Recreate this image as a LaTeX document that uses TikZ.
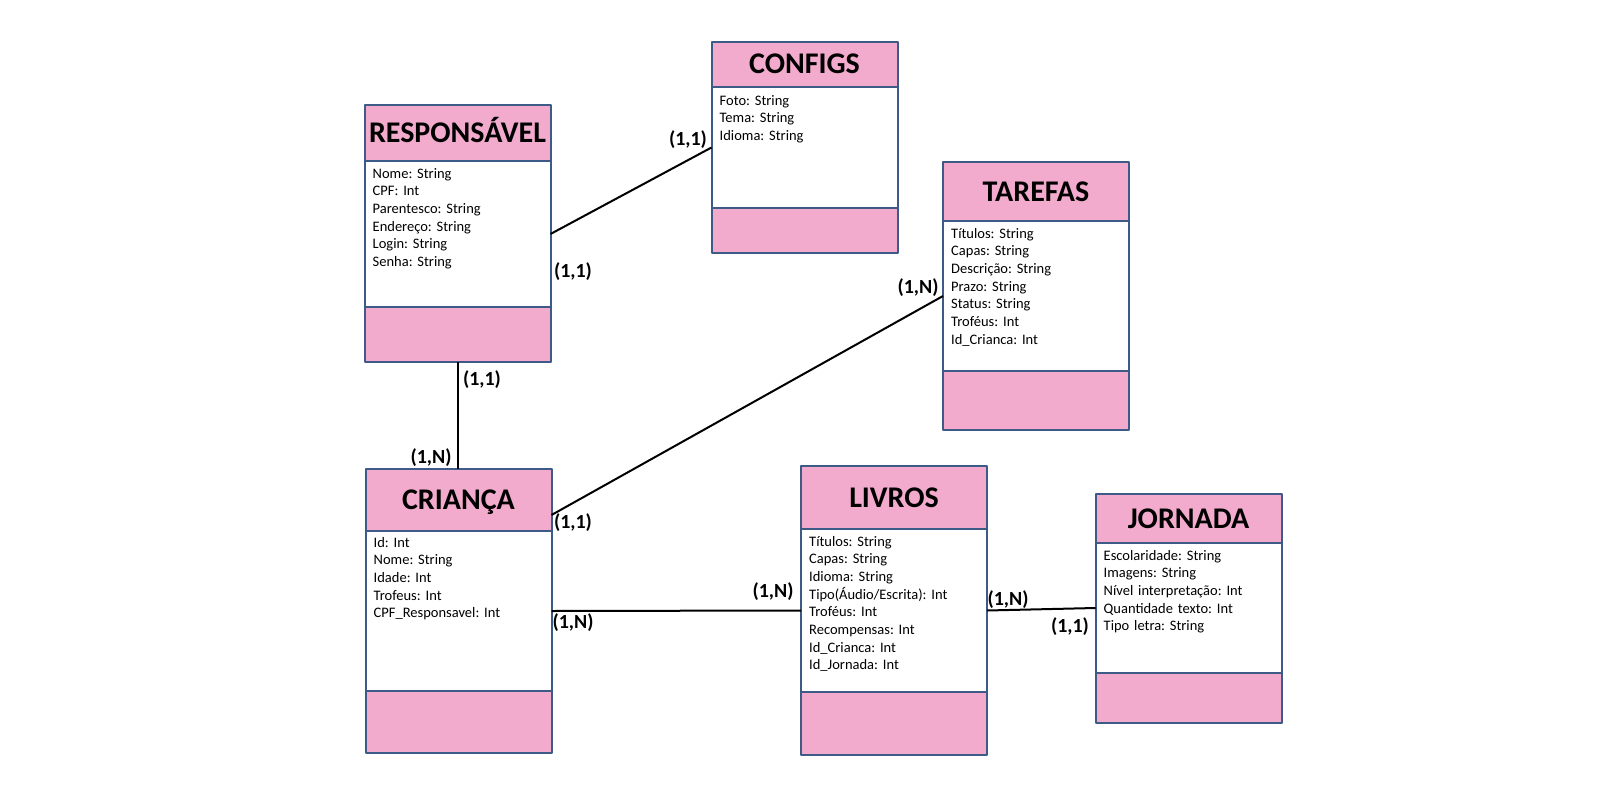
\documentclass[tikz,border=0pt]{standalone}
\usepackage{fontspec}
\setmainfont{Carlito}
\usetikzlibrary{positioning}
\definecolor{entpink}{RGB}{242,170,205}
\definecolor{entline}{RGB}{62,90,135}
\tikzset{>=latex}
\frenchspacing

\begin{document}
\begin{tikzpicture}[x=1pt, y=-1pt, line join=round,
    head/.style={draw=entline, line width=2pt, fill=entpink, minimum width=186pt,
        inner sep=0pt, outer sep=0pt, font=\fontsize{30}{36}\selectfont\bfseries,
        text height=19pt, text depth=0pt},
    body/.style={draw=entline, line width=2pt, fill=white, minimum width=186pt,
        inner sep=0pt, outer sep=0pt},
    foot/.style={body, fill=entpink},
    attrs/.style={anchor=base west, text width=175pt, align=left, inner sep=0pt,
        font=\fontsize{14.5}{17.7}\selectfont},
    card/.style={font=\fontsize{20}{24}\selectfont\bfseries, inner sep=0pt},
    conn/.style={black, line width=2pt}]
    \useasboundingbox (0,0) rectangle (1600,800);

    % responsavel
    \node[head, minimum height=56pt] (resp) at (457.5,133) {RESPONSÁVEL};
    \node[body, minimum height=146pt, below=0pt of resp] (resp-body) {};
    \node[foot, minimum height=55pt, below=0pt of resp-body] (resp-foot) {};
    \node[attrs] (resp-attr) at ([shift={(8,17)}]resp-body.north west)
        {Nome: String\\CPF: Int\\Parentesco: String\\Endereço: String\\Login: String\\Senha: String};

    % configs
    \node[head, minimum height=45pt] (cfg) at (804.5,64.5) {CONFIGS};
    \node[body, minimum height=121pt, below=0pt of cfg] (cfg-body) {};
    \node[foot, minimum height=45pt, below=0pt of cfg-body] (cfg-foot) {};
    \node[attrs] (cfg-attr) at ([shift={(8,18)}]cfg-body.north west)
        {Foto: String\\Tema: String\\Idioma: String};

    % tarefas
    \node[head, minimum height=59pt] (tar) at (1036,191.5) {TAREFAS};
    \node[body, minimum height=150pt, below=0pt of tar] (tar-body) {};
    \node[foot, minimum height=59pt, below=0pt of tar-body] (tar-foot) {};
    \node[attrs] (tar-attr) at ([shift={(8,17)}]tar-body.north west)
        {Títulos: String\\Capas: String\\Descrição: String\\Prazo: String\\Status: String\\Troféus: Int\\Id\_Crianca: Int};

    % crianca
    \node[head, minimum height=62pt] (cri) at (458.5,500) {CRIANÇA};
    \node[body, minimum height=160pt, below=0pt of cri] (cri-body) {};
    \node[foot, minimum height=62pt, below=0pt of cri-body] (cri-foot) {};
    \node[attrs] (cri-attr) at ([shift={(8,16)}]cri-body.north west)
        {Id: Int\\Nome: String\\Idade: Int\\Trofeus: Int\\CPF\_Responsavel: Int};

    % livros
    \node[head, minimum height=63pt] (liv) at (894,497.5) {LIVROS};
    \node[body, minimum height=163pt, below=0pt of liv] (liv-body) {};
    \node[foot, minimum height=63pt, below=0pt of liv-body] (liv-foot) {};
    \node[attrs] (liv-attr) at ([shift={(8,17)}]liv-body.north west)
        {Títulos: String\\Capas: String\\Idioma: String\\Tipo(Áudio/Escrita): Int\\Troféus: Int\\Recompensas: Int\\Id\_Crianca: Int\\Id\_Jornada: Int};

    % jornada
    \node[head, minimum height=49pt] (jor) at (1188.5,518.5) {JORNADA};
    \node[body, minimum height=130pt, below=0pt of jor] (jor-body) {};
    \node[foot, minimum height=50pt, below=0pt of jor-body] (jor-foot) {};
    \node[attrs] (jor-attr) at ([shift={(8,17)}]jor-body.north west)
        {Escolaridade: String\\Imagens: String\\Nível interpretação: Int\\Quantidade texto: Int\\Tipo letra: String};

    % relacionamentos
    \draw[conn] (resp-body.east) -- (cfg-body.west);
    \draw[conn] (resp-foot.south) -- (resp-foot.south |- cri.north);
    \draw[conn] ([yshift=16pt]cri-body.north east) -- (tar-body.west);
    \draw[conn] (cri-body.east) -- (liv-body.west);
    \draw[conn] (liv-body.east) -- (jor-body.west);

    \node[card] (c1) at (688,140) {(1,1)};
    \node[card] (c2) at (573,272) {(1,1)};
    \node[card] (c3) at (482,380) {(1,1)};
    \node[card] (c4) at (431,458) {(1,N)};
    \node[card] (c5) at (918,288) {(1,N)};
    \node[card] (c6) at (573,523) {(1,1)};
    \node[card] (c7) at (773,592) {(1,N)};
    \node[card] (c8) at (573,623) {(1,N)};
    \node[card] (c9) at (1008,600) {(1,N)};
    \node[card] (c10) at (1070,627) {(1,1)};
\end{tikzpicture}
\end{document}
